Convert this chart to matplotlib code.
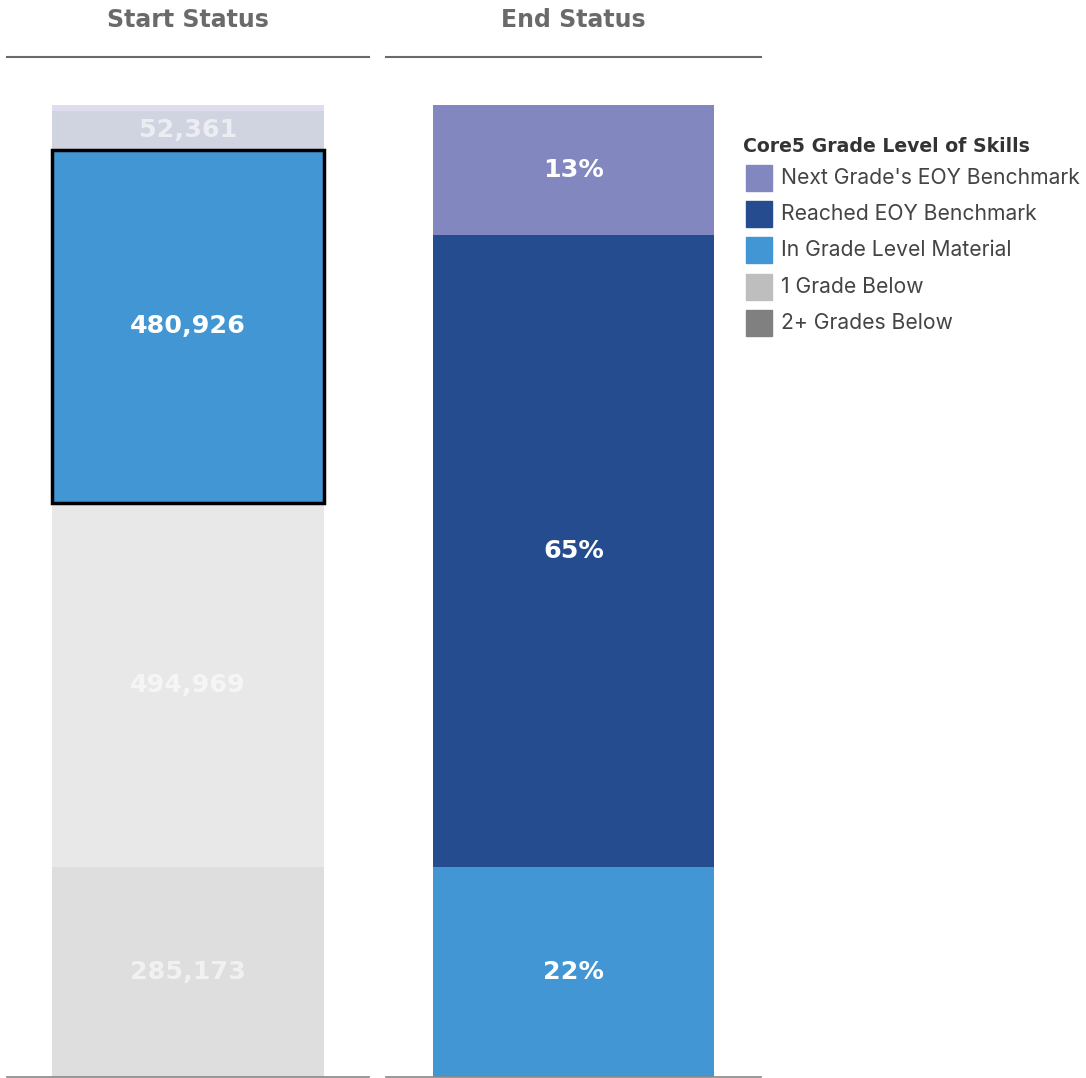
"""Start vs end status of Core5 grade level of skills."""

import matplotlib
matplotlib.use("Agg")
import matplotlib.pyplot as plt
from matplotlib.lines import Line2D
from matplotlib.patches import Rectangle


# categories, bottom to top
categories = [
    "2+ Grades Below",
    "1 Grade Below",
    "In Grade Level Material",
    "Reached EOY Benchmark",
    "Next Grade's EOY Benchmark",
]
colors = ["#808080", "#bebebe", "#4196d3", "#244c8f", "#8387c0"]
faded_colors = ["#dedede", "#e8e8e8", "#4196d3", "#cfd4e0", "#dfdded"]

start_values = [285173, 494969, 480926, 52361, 8200]
start_labels = ["285,173", "494,969", "480,926", "52,361", ""]
highlight = "In Grade Level Material"

end_pct = [0, 0, 21.6, 65.0, 13.4]

W, H = 1086, 1078


def fx(px):
    return px / W


def fy(py):
    return 1 - py / H


fig = plt.figure(figsize=(W / 100, H / 100), dpi=100)

ax_l = fig.add_axes([fx(7), fy(1077), 362 / W, 972 / H])
ax_r = fig.add_axes([fx(386), fy(1077), 375 / W, 972 / H])

# Start status (counts)
bottom = 0
for cat, val, lab, col in zip(categories, start_values, start_labels, faded_colors):
    hl = cat == highlight
    ax_l.bar(0.5, val, width=0.751, bottom=bottom, color=col,
             edgecolor="black" if hl else "none", linewidth=2.5 if hl else 0,
             zorder=3 if hl else 2)
    if lab:
        ax_l.text(0.5, bottom + val / 2, lab, ha="center", va="center",
                  color="white", alpha=1 if hl else 0.6,
                  fontsize=18.3, fontweight="bold", zorder=4)
    bottom += val
ax_l.set_ylim(0, bottom)

# End status (percent)
bottom = 0
for cat, val, col in zip(categories, end_pct, colors):
    if val > 0:
        ax_r.bar(0.5, val, width=0.75, bottom=bottom, color=col, linewidth=0)
        ax_r.text(0.5, bottom + val / 2, f"{round(val)}%", ha="center",
                  va="center", color="white", fontsize=18.3, fontweight="bold")
    bottom += val
ax_r.set_ylim(0, bottom)

for ax in (ax_l, ax_r):
    ax.set_xlim(0, 1)
    ax.set_xticks([])
    ax.set_yticks([])
    for s in ("top", "left", "right"):
        ax.spines[s].set_visible(False)
    ax.spines["bottom"].set_color("#888888")
    ax.spines["bottom"].set_linewidth(1.2)

# headers
for title, x0, x1 in [("Start Status", 7, 369), ("End Status", 386, 761)]:
    fig.text(fx((x0 + x1) / 2), fy(20), title, ha="center", va="center",
             fontsize=17, fontweight="bold", color="#6a6a6a")
    fig.add_artist(Line2D([fx(x0), fx(x1)], [fy(57), fy(57)],
                          color="#6a6a6a", linewidth=1.5))

# legend
fig.text(fx(743), fy(147), "Core5 Grade Level of Skills", ha="left",
         va="center", fontsize=13.6, fontweight="bold", color="#333333")
for i, (cat, col) in enumerate(zip(categories[::-1], colors[::-1])):
    yc = 178 + i * 36.2
    fig.add_artist(Rectangle((fx(746), fy(yc + 13)), 26 / W, 26 / H,
                             transform=fig.transFigure, color=col))
    fig.text(fx(781), fy(yc), cat, ha="left", va="center",
             fontsize=15.2, family="Inter", color="#444444")

fig.savefig("out.png", dpi=100)
